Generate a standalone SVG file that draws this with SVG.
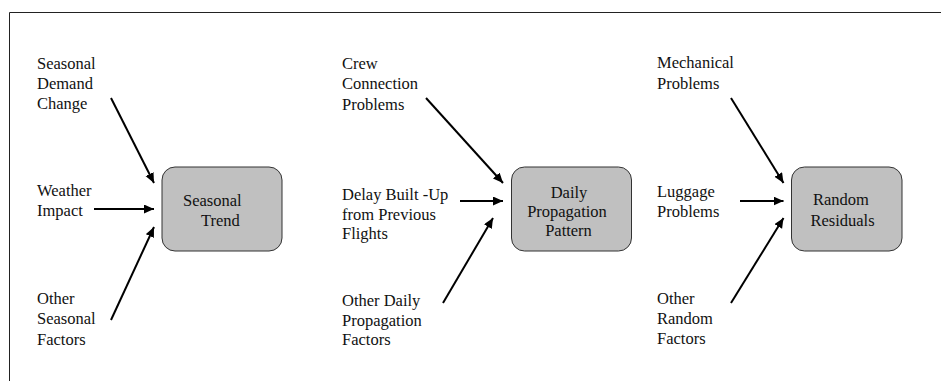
<svg xmlns="http://www.w3.org/2000/svg" width="941" height="381" viewBox="0 0 941 381">
  <defs>
    <marker id="head" markerUnits="userSpaceOnUse" markerWidth="12" markerHeight="10" refX="10" refY="4.5" orient="auto">
      <path d="M0,0 L10,4.5 L0,9 z" fill="#000"/>
    </marker>
    <style>
      .box { fill: #c0c0c0; stroke: #333; stroke-width: 1; }
      .arrow { stroke: #000; stroke-width: 2; fill: none; marker-end: url(#head); }
      .frame { fill: none; stroke: #222; stroke-width: 1; }
    </style>
  </defs>

  <rect width="941" height="381" fill="#fff"/>
  <!-- outer frame, open to the right and bottom -->
  <path class="frame" d="M9.5,390 L9.5,12.5 L950,12.5"/>

  <g font-family="'Liberation Serif', 'Times New Roman', Times, 'DejaVu Serif', serif" font-size="16.5" fill="#111">
  <!-- Seasonal column -->
  <g id="seasonal-demand-change">
    <text x="37" y="69">Seasonal</text>
    <text x="37" y="89">Demand</text>
    <text x="37" y="109">Change</text>
  </g>
  <g id="weather-impact">
    <text x="37" y="196">Weather</text>
    <text x="37" y="216">Impact</text>
  </g>
  <g id="other-seasonal-factors">
    <text x="37" y="304">Other</text>
    <text x="37" y="324">Seasonal</text>
    <text x="37" y="345">Factors</text>
  </g>
  <g id="seasonal-trend">
    <rect class="box" x="162" y="167" width="120" height="84" rx="13"/>
    <text x="183" y="206">Seasonal</text>
    <text x="201" y="225.5">Trend</text>
  </g>

  <!-- Daily propagation column -->
  <g id="crew-connection-problems">
    <text x="342" y="68.5">Crew</text>
    <text x="342" y="89">Connection</text>
    <text x="342" y="110">Problems</text>
  </g>
  <g id="delay-built-up">
    <text x="342" y="200">Delay Built -Up</text>
    <text x="342" y="219.5">from Previous</text>
    <text x="342" y="239">Flights</text>
  </g>
  <g id="other-daily-factors">
    <text x="342" y="306">Other Daily</text>
    <text x="342" y="326">Propagation</text>
    <text x="342" y="345">Factors</text>
  </g>
  <g id="daily-propagation-pattern">
    <rect class="box" x="511.5" y="167" width="120" height="84" rx="13"/>
    <text x="569" y="197.5" text-anchor="middle">Daily</text>
    <text x="567" y="217" text-anchor="middle">Propagation</text>
    <text x="568.5" y="235.5" text-anchor="middle">Pattern</text>
  </g>

  <!-- Random column -->
  <g id="mechanical-problems">
    <text x="657" y="67.5">Mechanical</text>
    <text x="657" y="88.5">Problems</text>
  </g>
  <g id="luggage-problems">
    <text x="657" y="197">Luggage</text>
    <text x="657" y="217">Problems</text>
  </g>
  <g id="other-random-factors">
    <text x="657" y="303.5">Other</text>
    <text x="657" y="324">Random</text>
    <text x="657" y="344">Factors</text>
  </g>
  <g id="random-residuals">
    <rect class="box" x="791.5" y="167" width="110.5" height="84" rx="13"/>
    <text x="841" y="205" text-anchor="middle">Random</text>
    <text x="842.5" y="226" text-anchor="middle">Residuals</text>
  </g>
  </g>

  <!-- connectors -->
  <g id="connectors">
    <line class="arrow" x1="111" y1="98" x2="154" y2="183"/>
    <line class="arrow" x1="94" y1="209" x2="154" y2="209"/>
    <line class="arrow" x1="111" y1="320" x2="154" y2="227"/>

    <line class="arrow" x1="426" y1="98" x2="503" y2="183"/>
    <line class="arrow" x1="460" y1="201" x2="503" y2="201"/>
    <line class="arrow" x1="443" y1="303" x2="493" y2="218"/>

    <line class="arrow" x1="731" y1="98" x2="783.5" y2="183"/>
    <line class="arrow" x1="740" y1="201" x2="783.5" y2="201"/>
    <line class="arrow" x1="731" y1="303" x2="783.5" y2="218"/>
  </g>
</svg>
